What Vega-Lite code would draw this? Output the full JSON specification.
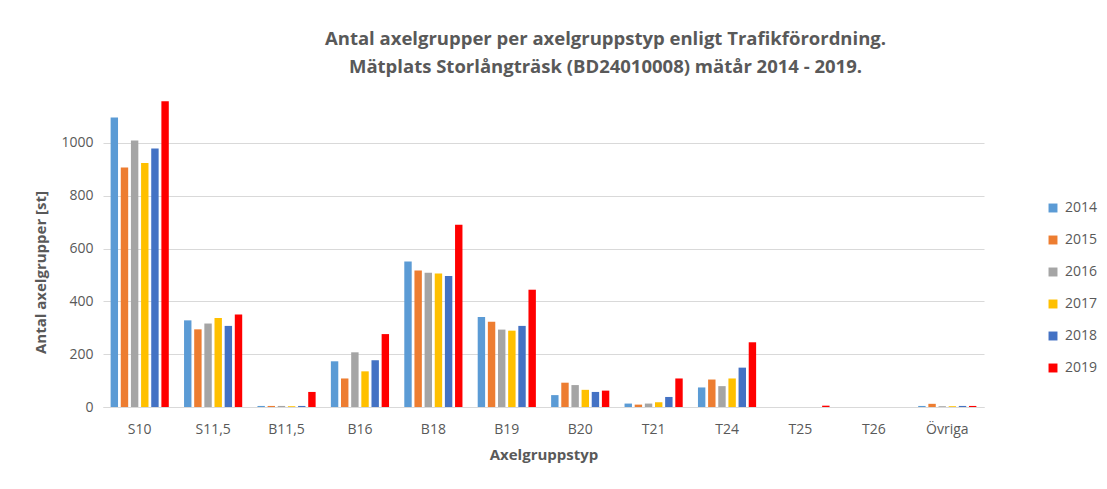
{
  "$schema": "https://vega.github.io/schema/vega-lite/v6.json",
  "autosize": "none",
  "width": 881,
  "height": 317,
  "padding": {"left": 103, "top": 90, "right": 123, "bottom": 82},
  "background": "white",
  "config": {
    "font": "Open Sans",
    "view": {"stroke": null},
    "axis": {"labelColor": "#595959", "titleColor": "#595959", "labelFontSize": 14, "labelFont": "Open Sans"}
  },
  "title": {
    "text": ["Antal axelgrupper per axelgruppstyp enligt Trafikförordning.", "Mätplats Storlångträsk (BD24010008) mätår 2014 - 2019."],
    "anchor": "middle",
    "dx": 62,
    "offset": 14,
    "fontSize": 18.5,
    "fontWeight": "bold",
    "color": "#595959",
    "lineHeight": 28,
    "font": "Open Sans"
  },
  "data": {"values": [
    {"typ": "S10", "year": "2014", "antal": 1096},
    {"typ": "S10", "year": "2015", "antal": 907},
    {"typ": "S10", "year": "2016", "antal": 1009},
    {"typ": "S10", "year": "2017", "antal": 924},
    {"typ": "S10", "year": "2018", "antal": 979},
    {"typ": "S10", "year": "2019", "antal": 1157},
    {"typ": "S11,5", "year": "2014", "antal": 328},
    {"typ": "S11,5", "year": "2015", "antal": 294},
    {"typ": "S11,5", "year": "2016", "antal": 316},
    {"typ": "S11,5", "year": "2017", "antal": 337},
    {"typ": "S11,5", "year": "2018", "antal": 307},
    {"typ": "S11,5", "year": "2019", "antal": 350},
    {"typ": "B11,5", "year": "2014", "antal": 4},
    {"typ": "B11,5", "year": "2015", "antal": 4},
    {"typ": "B11,5", "year": "2016", "antal": 4},
    {"typ": "B11,5", "year": "2017", "antal": 3},
    {"typ": "B11,5", "year": "2018", "antal": 4},
    {"typ": "B11,5", "year": "2019", "antal": 57},
    {"typ": "B16", "year": "2014", "antal": 173},
    {"typ": "B16", "year": "2015", "antal": 108},
    {"typ": "B16", "year": "2016", "antal": 207},
    {"typ": "B16", "year": "2017", "antal": 135},
    {"typ": "B16", "year": "2018", "antal": 177},
    {"typ": "B16", "year": "2019", "antal": 276},
    {"typ": "B18", "year": "2014", "antal": 551},
    {"typ": "B18", "year": "2015", "antal": 517},
    {"typ": "B18", "year": "2016", "antal": 508},
    {"typ": "B18", "year": "2017", "antal": 505},
    {"typ": "B18", "year": "2018", "antal": 496},
    {"typ": "B18", "year": "2019", "antal": 690},
    {"typ": "B19", "year": "2014", "antal": 341},
    {"typ": "B19", "year": "2015", "antal": 323},
    {"typ": "B19", "year": "2016", "antal": 293},
    {"typ": "B19", "year": "2017", "antal": 289},
    {"typ": "B19", "year": "2018", "antal": 307},
    {"typ": "B19", "year": "2019", "antal": 444},
    {"typ": "B20", "year": "2014", "antal": 45},
    {"typ": "B20", "year": "2015", "antal": 92},
    {"typ": "B20", "year": "2016", "antal": 83},
    {"typ": "B20", "year": "2017", "antal": 65},
    {"typ": "B20", "year": "2018", "antal": 57},
    {"typ": "B20", "year": "2019", "antal": 62},
    {"typ": "T21", "year": "2014", "antal": 13},
    {"typ": "T21", "year": "2015", "antal": 9},
    {"typ": "T21", "year": "2016", "antal": 13},
    {"typ": "T21", "year": "2017", "antal": 18},
    {"typ": "T21", "year": "2018", "antal": 38},
    {"typ": "T21", "year": "2019", "antal": 108},
    {"typ": "T24", "year": "2014", "antal": 74},
    {"typ": "T24", "year": "2015", "antal": 104},
    {"typ": "T24", "year": "2016", "antal": 79},
    {"typ": "T24", "year": "2017", "antal": 108},
    {"typ": "T24", "year": "2018", "antal": 149},
    {"typ": "T24", "year": "2019", "antal": 245},
    {"typ": "T25", "year": "2014", "antal": 0},
    {"typ": "T25", "year": "2015", "antal": 0},
    {"typ": "T25", "year": "2016", "antal": 0},
    {"typ": "T25", "year": "2017", "antal": 0},
    {"typ": "T25", "year": "2018", "antal": 0},
    {"typ": "T25", "year": "2019", "antal": 5},
    {"typ": "T26", "year": "2014", "antal": 0},
    {"typ": "T26", "year": "2015", "antal": 0},
    {"typ": "T26", "year": "2016", "antal": 0},
    {"typ": "T26", "year": "2017", "antal": 0},
    {"typ": "T26", "year": "2018", "antal": 0},
    {"typ": "T26", "year": "2019", "antal": 0},
    {"typ": "Övriga", "year": "2014", "antal": 4},
    {"typ": "Övriga", "year": "2015", "antal": 12},
    {"typ": "Övriga", "year": "2016", "antal": 3},
    {"typ": "Övriga", "year": "2017", "antal": 3},
    {"typ": "Övriga", "year": "2018", "antal": 4},
    {"typ": "Övriga", "year": "2019", "antal": 4}
  ]},
  "mark": {"type": "bar"},
  "encoding": {
    "x": {
      "field": "typ", "type": "nominal", "sort": null,
      "scale": {"paddingInner": 0.18, "paddingOuter": 0.09},
      "axis": {"title": "Axelgruppstyp", "labelAngle": 0, "ticks": false, "domainColor": "#d9d9d9", "labelPadding": 15, "titleFontSize": 15, "titleFontWeight": "bold", "titlePadding": 11}
    },
    "xOffset": {"field": "year", "type": "nominal", "scale": {"paddingInner": 0.27, "paddingOuter": 0.1}},
    "y": {
      "field": "antal", "type": "quantitative",
      "scale": {"domain": [0, 1200], "nice": false},
      "axis": {"title": "Antal axelgrupper [st]", "format": "d", "values": [0, 200, 400, 600, 800, 1000], "domain": false, "ticks": false, "gridColor": "#d9d9d9", "labelPadding": 10, "titleFontSize": 15, "titleFontWeight": "bold", "titlePadding": 12, "titleY": 182}
    },
    "color": {
      "field": "year", "type": "nominal",
      "scale": {"domain": ["2014", "2015", "2016", "2017", "2018", "2019"], "range": ["#5B9BD5", "#ED7D31", "#A5A5A5", "#FFC000", "#4472C4", "#FF0000"]},
      "legend": {"title": null, "orient": "none", "legendX": 943, "legendY": 111, "symbolType": "square", "symbolSize": 80, "symbolStrokeWidth": 0, "labelFontSize": 14, "labelColor": "#595959", "rowPadding": 18, "labelOffset": 5}
    }
  }
}
